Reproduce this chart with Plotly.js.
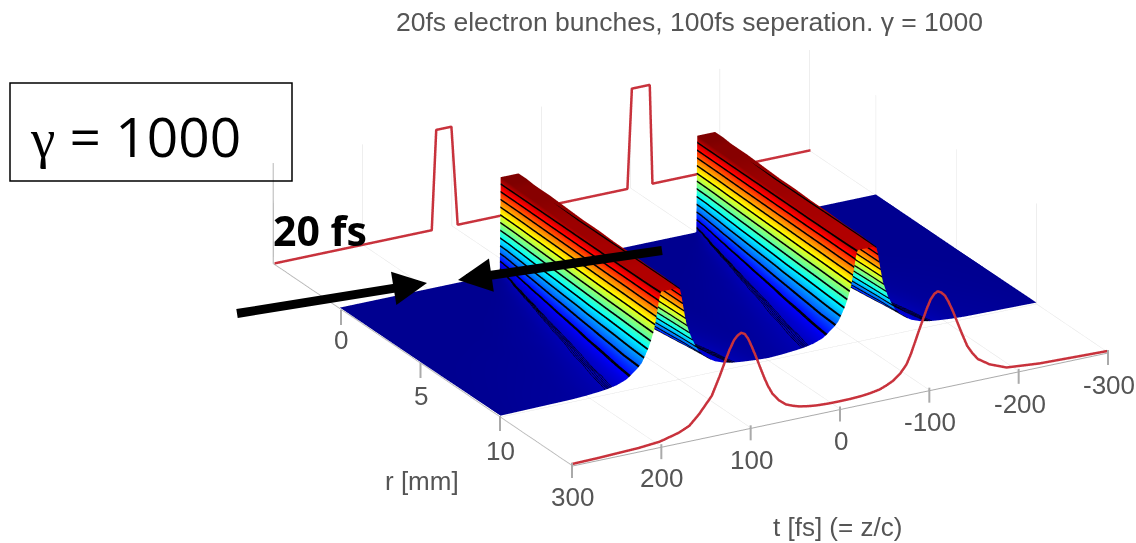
<!DOCTYPE html>
<html><head><meta charset="utf-8">
<script src="https://cdn.plot.ly/plotly-3.0.1.min.js"></script>
<style>html,body{margin:0;padding:0;background:#fff}#c{width:1136px;height:543px}</style>
</head><body><div id="c"></div>
<script>
const tPositive=[0,15,30,40,50,60,65,70,74,78,82,86,89,92,94,96,97,98,99,100,120,121,122,123,124,126,128,131,134,138,142,146,150,155,160,170,180,190,205,220,300];
const rValues=[0,0.5,1,2,3,4,5,6,7,8,9,10];
const flank_r0=[1,0,0,0,0,0,0,0,0,0,0,0,0,0,0,0,0,0,0,0,0];
const flank_r05=[1,.3,.11,.05,.03,.014,.008,.003,.001,0,0,0,0,0,0,0,0,0,0,0,0];
const flank_r1=[.99,.52,.3,.18,.11,.05,.03,.016,.01,.006,.003,.002,.001,0,0,0,0,0,0,0,0];
const flank_r2=[.99,.75,.52,.39,.3,.18,.11,.06,.04,.024,.016,.011,.009,.006,.004,.002,.001,0,0,0,0];
const flank_r3=[.98,.84,.65,.52,.43,.29,.21,.127,.078,.049,.034,.025,.018,.014,.011,.007,.004,.003,.001,.001,0];
const flank_r4=[.97,.88,.74,.61,.51,.38,.29,.2,.136,.087,.058,.044,.033,.024,.017,.012,.009,.006,.003,.002,0];
const flank_r5=[.97,.91,.795,.68,.58,.456,.36,.25,.194,.13,.087,.063,.049,.039,.029,.017,.014,.01,.007,.004,0];
const flank_r6=[.96,.917,.826,.73,.64,.51,.42,.32,.245,.17,.125,.093,.067,.05,.04,.027,.017,.013,.009,.007,.001];
const flank_r7=[.96,.93,.855,.77,.69,.56,.47,.36,.29,.215,.165,.125,.096,.067,.053,.036,.025,.017,.012,.009,.002];
const flank_r8=[.95,.93,.865,.79,.72,.59,.50,.40,.32,.25,.195,.15,.12,.09,.067,.045,.032,.024,.015,.011,.003];
const flank_r9=[.95,.93,.88,.82,.76,.63,.54,.44,.36,.285,.23,.18,.147,.11,.086,.055,.04,.03,.02,.014,.004];
const flank_r10=[.94,.92,.88,.83,.77,.66,.56,.47,.39,.31,.24,.20,.17,.13,.10,.066,.047,.036,.024,.017,.005];
const frontT=[300,270,250,225,201,180,168,157,143,134,128,123,118,114,110,106,102,98,93,88,84,80,75,68,60,52,45,35,25,12,0,-12,-25,-35,-45,-52,-60,-68,-75,-80,-84,-88,-93,-98,-102,-106,-110,-114,-118,-122,-127,-131,-137,-143,-149,-155,-168,-187,-224,-261,-300];
const frontZ=[0,.005,.012,.02,.04,.09,.14,.24,.40,.59,.73,.84,.93,.97,.99,.97,.91,.82,.70,.57,.47,.38,.29,.21,.15,.12,.10,.083,.072,.066,.065,.066,.072,.083,.10,.125,.16,.22,.30,.40,.50,.60,.72,.84,.92,.97,.99,.97,.93,.86,.75,.65,.50,.36,.27,.20,.12,.05,.02,.01,0];
const backT=[300,124,119,102,95,-95,-100,-120,-123,-300];
const backZ=[0,0,1.03,1.03,0,0,1.03,1.03,0,0];
const tTicks=[-300,-200,-100,0,100,200,300];
const rTicks=[0,5,10];
const rRange=[-4.15,14.5];
const rFrontWall=14.42, rBackWall=-4.07;
const contourOffsets=[-.006,-.003,.003,.006];
const jet=[[0,'#000090'],[.125,'#0000ff'],[.375,'#00ffff'],[.625,'#ffff00'],[.875,'#ff0000'],[1,'#7f0000']];

const flanks=[flank_r0,flank_r05,flank_r1,flank_r2,flank_r3,flank_r4,flank_r5,flank_r6,flank_r7,flank_r8,flank_r9,flank_r10];
const tFull=tPositive.slice(1).reverse().map(v=>-v).concat(tPositive);
const zMatrix=flanks.map(f=>{const half=f.slice(0,20).reverse().concat(f);return half.slice(1).reverse().concat(half);});
const red='#c8323c';
const flat={ambient:1,diffuse:0,specular:0,roughness:1,fresnel:0};
const data=[
 {type:'surface',x:tFull,y:rValues,z:zMatrix,colorscale:jet,cmin:0,cmax:1,showscale:false,hoverinfo:'skip',lighting:flat,
  contours:{z:{show:true,start:.05,end:.95,size:.08,color:'#000',width:2},x:{highlight:false},y:{highlight:false}}}
].concat(contourOffsets.map(o=>({type:'surface',x:tFull,y:rValues,z:zMatrix,hidesurface:true,colorscale:jet,cmin:0,cmax:1,showscale:false,hoverinfo:'skip',lighting:flat,
  contours:{z:{show:true,start:.05+o,end:.95+o,size:.08,color:'#000',width:2},x:{highlight:false},y:{highlight:false}}})),[
 {type:'scatter3d',mode:'lines',x:frontT,y:frontT.map(()=>rFrontWall),z:frontZ,line:{color:red,width:5},hoverinfo:'skip'},
 {type:'scatter3d',mode:'lines',x:backT,y:backT.map(()=>rBackWall),z:backZ,line:{color:red,width:5},hoverinfo:'skip'}
]);
const ax=(vals,range)=>({range:range,tickmode:'array',tickvals:vals,ticktext:vals.map(String),tickangle:0,showbackground:false,showgrid:true,gridcolor:'#dddddd',gridwidth:1,
  showline:true,linecolor:'#aaaaaa',linewidth:2,ticks:'',showticklabels:false,zeroline:false,showspikes:false,title:{text:''}});
const tickColor='#aaaaaa';
const tickFont={family:'Liberation Sans',size:26,color:'#555'};
const tickShapes=tTicks.map(t=>{const px=572+(300-t)*536/600,py=463-(300-t)*113/600;return {type:'line',xref:'paper',yref:'paper',x0:px/1136,x1:px/1136,y0:1-py/543,y1:1-(py+15)/543,line:{color:tickColor,width:2}};})
 .concat(rTicks.map(r=>{const px=341+r*15.9,py=310+r*10.6;return {type:'line',xref:'paper',yref:'paper',x0:px/1136,x1:px/1136,y0:1-py/543,y1:1-(py+15)/543,line:{color:tickColor,width:2}};}));
const tickLabels=tTicks.map(t=>({xref:'paper',yref:'paper',x:(572+(300-t)*.895)/1136,y:1-(497-(300-t)*.187)/543,xanchor:'center',yanchor:'middle',showarrow:false,text:String(t),font:tickFont}))
 .concat(rTicks.map(r=>({xref:'paper',yref:'paper',x:(341+r*15.9)/1136,y:1-(340+r*11.1)/543,xanchor:'center',yanchor:'middle',showarrow:false,text:String(r),font:tickFont})));
const layout={
 width:1136,height:543,margin:{l:0,r:0,t:0,b:0},paper_bgcolor:'#fff',showlegend:false,
 title:{text:'20fs electron bunches, 100fs seperation. γ = 1000',font:{family:'Liberation Sans',size:26.5,color:'#555'},x:.607,xanchor:'center',y:.96,yanchor:'middle'},
 scene:{domain:{x:[.2165,1],y:[.05,1]},aspectmode:'manual',aspectratio:{x:2.38,y:2.38,z:.42},
  camera:{projection:{type:'orthographic'},eye:{x:.904,y:1.618,z:.756},center:{x:0,y:0,z:0},up:{x:0,y:0,z:1}},
  xaxis:ax(tTicks,[-300,300]),yaxis:ax(rTicks,rRange),
  zaxis:Object.assign(ax([0,.25,.5,.75,1],[-.01,1.03]),{showgrid:false})},
 shapes:[{type:'rect',xref:'paper',yref:'paper',x0:10/1136,x1:292/1136,y0:1-181/543,y1:1-83/543,line:{color:'#000',width:1.5},fillcolor:'rgba(0,0,0,0)'}].concat(tickShapes),
 annotations:tickLabels.concat([
  {xref:'paper',yref:'paper',x:135/1136,y:1-135/543,xanchor:'center',yanchor:'middle',showarrow:false,text:'<span style="font-family:Liberation Serif">γ</span> = 1000',font:{family:'Open Sans',size:55,color:'#000'}},
  {xref:'paper',yref:'paper',x:320/1136,y:1-230/543,xanchor:'center',yanchor:'middle',showarrow:false,text:'<b>20 fs</b>',font:{family:'Open Sans',size:41,color:'#000'}},
  {xref:'paper',yref:'paper',x:422/1136,y:1-481/543,xanchor:'center',yanchor:'middle',showarrow:false,text:'r [mm]',font:{family:'Liberation Sans',size:26,color:'#555'}},
  {xref:'paper',yref:'paper',x:837/1136,y:1-527/543,xanchor:'center',yanchor:'middle',showarrow:false,text:'t [fs] (= z/c)',font:{family:'Liberation Sans',size:26,color:'#555'}},
  {xref:'paper',yref:'paper',x:427/1136,y:1-283/543,ax:-193,ay:31,text:' ',showarrow:true,arrowhead:2,arrowsize:.75,arrowwidth:9,arrowcolor:'#000'},
  {xref:'paper',yref:'paper',x:458/1136,y:1-280/543,ax:207,ay:-30,text:' ',showarrow:true,arrowhead:2,arrowsize:.75,arrowwidth:9,arrowcolor:'#000'}
 ])
};
Plotly.newPlot('c',data,layout,{displayModeBar:false});
</script></body></html>
